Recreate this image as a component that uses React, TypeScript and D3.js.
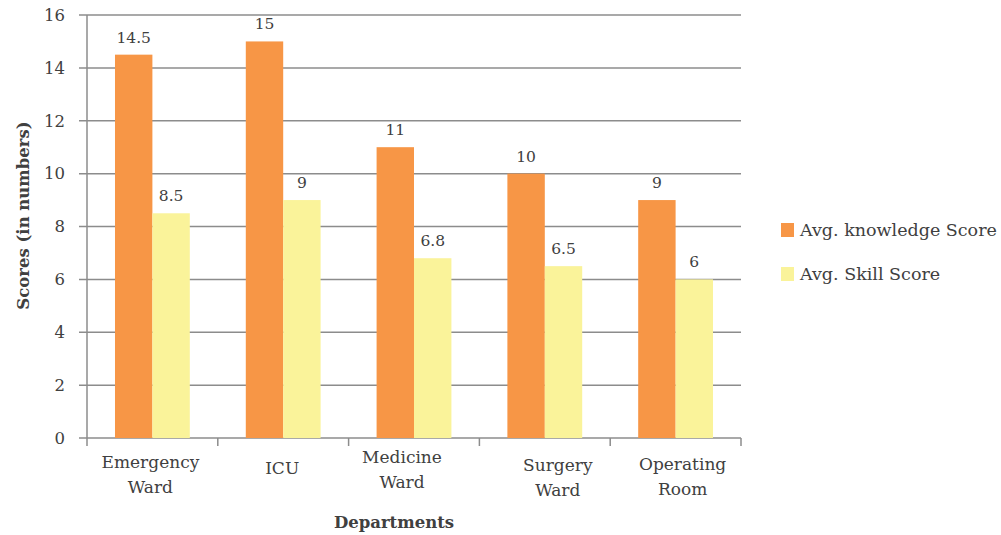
import * as d3 from "d3";

const departments = ["Emergency Ward", "ICU", "Medicine Ward", "Surgery Ward", "Operating Room"];
const knowledgeScores = [14.5, 15, 11, 10, 9];
const skillScores = [8.5, 9, 6.8, 6.5, 6];
const yTicks = [0, 2, 4, 6, 8, 10, 12, 14, 16];
const seriesNames = ["Avg. knowledge Score", "Avg. Skill Score"];
const seriesColors = ["#F79646", "#FAF39A"];

// Excel nudges the wrapped category labels a bit; mimic it
const LABEL_NUDGE = [
  { dx: -2, dy: 0 },
  { dx: -1, dy: 6 },
  { dx: -12, dy: -5 },
  { dx: 13, dy: 3 },
  { dx: 7, dy: 2 },
];

const W = 1001;
const H = 535;
const MARGIN = { top: 15, right: 260, bottom: 97, left: 87 };
const FONT = "'DejaVu Serif', 'Liberation Serif', serif";
const TEXT = "#404040";
const GRID = "#8c8c8c";

export default function App() {
  const innerW = W - MARGIN.left - MARGIN.right;
  const innerH = H - MARGIN.top - MARGIN.bottom;

  const x = d3.scaleBand().domain(departments).range([0, innerW]);
  const bw = x.bandwidth() * 0.286;
  const y = d3.scaleLinear().domain([0, 16]).range([innerH, 0]);

  const series = [knowledgeScores, skillScores];

  return (
    <svg
      width={W}
      height={H}
      style={{ position: "absolute", left: 0, top: 0, display: "block", background: "#fff" }}
      fontFamily={FONT}
    >
      <g transform={`translate(${MARGIN.left},${MARGIN.top})`}>
        {/* gridlines + y ticks */}
        {yTicks.map((t) => (
          <g key={t} transform={`translate(0,${y(t)})`}>
            <line x1={-8} x2={innerW} stroke={GRID} strokeWidth={1.5} />
            <text x={-22} dy="0.35em" textAnchor="end" fontSize={16.5} fill={TEXT}>
              {t}
            </text>
          </g>
        ))}
        {/* y axis line */}
        <line x1={0} x2={0} y1={0} y2={innerH} stroke={GRID} strokeWidth={1.5} />
        {/* x category ticks */}
        {[...departments.map((d) => x(d) ?? 0), innerW].map((px, i) => (
          <line key={i} x1={px} x2={px} y1={innerH} y2={innerH + 8} stroke={GRID} strokeWidth={1.5} />
        ))}

        {/* bars */}
        {departments.map((d, i) => {
          const start = (x(d) ?? 0) + (x.bandwidth() - bw * 2) / 2;
          return (
            <g key={d}>
              {series.map((vals, s) => {
                const bx = start + s * bw;
                const by = y(vals[i]);
                return (
                  <g key={s}>
                    <rect x={bx} y={by} width={bw} height={innerH - by} fill={seriesColors[s]} />
                    <text
                      x={bx + bw / 2}
                      y={by - 12}
                      textAnchor="middle"
                      fontSize={15.5}
                      fill={TEXT}
                    >
                      {vals[i]}
                    </text>
                  </g>
                );
              })}
            </g>
          );
        })}

        {/* category labels */}
        {departments.map((d, i) => {
          const words = d.split(" ");
          const cx = (x(d) ?? 0) + x.bandwidth() / 2 + LABEL_NUDGE[i].dx;
          const base = innerH + 30 + LABEL_NUDGE[i].dy;
          return (
            <text key={d} textAnchor="middle" fontSize={17} fill={TEXT}>
              {words.length === 1 ? (
                <tspan x={cx} y={base}>{d}</tspan>
              ) : (
                words.map((w, k) => (
                  <tspan key={k} x={cx} y={base + k * 25}>
                    {w}
                  </tspan>
                ))
              )}
            </text>
          );
        })}

        {/* axis titles */}
        <text
          x={innerW / 2 - 20}
          y={innerH + 90}
          textAnchor="middle"
          fontSize={16.5}
          fontWeight="bold"
          fill={TEXT}
        >
          Departments
        </text>
        <text
          transform={`translate(${-58},${innerH / 2 - 11}) rotate(-90)`}
          textAnchor="middle"
          fontSize={16.5}
          fontWeight="bold"
          fill={TEXT}
        >
          Scores (in numbers)
        </text>
      </g>

      {/* legend */}
      {seriesNames.map((n, i) => (
        <g key={n} transform={`translate(781,${223 + i * 44})`}>
          <rect width={13} height={14} fill={seriesColors[i]} />
          <text x={19} y={7} dy="0.35em" fontSize={17.5} fill={TEXT}>
            {n}
          </text>
        </g>
      ))}
    </svg>
  );
}
